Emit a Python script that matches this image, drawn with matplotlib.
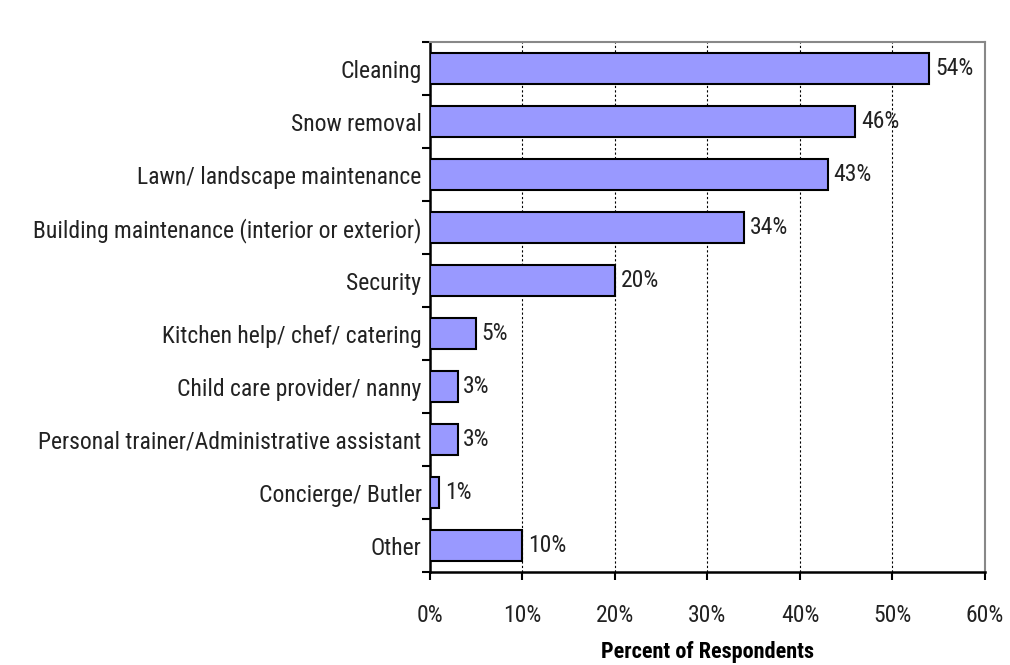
import matplotlib.pyplot as plt
from matplotlib.ticker import FixedLocator, FuncFormatter

# Survey results
categories = [
    "Cleaning",
    "Snow removal",
    "Lawn/ landscape maintenance",
    "Building maintenance (interior or exterior)",
    "Security",
    "Kitchen help/ chef/ catering",
    "Child care provider/ nanny",
    "Personal trainer/Administrative assistant",
    "Concierge/ Butler",
    "Other",
]
percents = [54, 46, 43, 34, 20, 5, 3, 3, 1, 10]
x_ticks = [0, 10, 20, 30, 40, 50, 60]

plt.rcParams["font.family"] = ["Roboto Condensed", "DejaVu Sans"]
plt.rcParams["font.size"] = 17

fig = plt.figure(figsize=(10.1, 6.65), dpi=100)
ax = fig.add_axes([0.4257, 0.1398, 0.5495, 0.797])

n = len(categories)
ypos = list(range(n))
ax.barh(ypos, percents, height=0.57, color="#9999FF", edgecolor="black", linewidth=1.5, zorder=3)

for y, v in zip(ypos, percents):
    ax.text(v + 0.6, y, f"{v}%", va="center", ha="left", color="#222222")

ax.set_ylim(n - 0.5, -0.5)
ax.set_xlim(0, 60)

# category labels in the middle, tick marks between categories
ax.set_yticks(ypos)
ax.set_yticklabels(categories, color="#222222")
ax.tick_params(axis="y", which="major", length=0, pad=6)
ax.yaxis.set_minor_locator(FixedLocator([i - 0.5 for i in range(n + 1)]))
ax.tick_params(axis="y", which="minor", length=6, width=1.5, direction="out")

ax.set_xticks(x_ticks)
ax.xaxis.set_major_formatter(FuncFormatter(lambda v, p: f"{int(v)}%"))
ax.tick_params(axis="x", length=6, width=1.5, direction="out", pad=17, labelcolor="#222222")

ax.grid(axis="x", color="black", linestyle=(0, (2, 2)), linewidth=0.8, zorder=0)

for side in ("left", "bottom"):
    ax.spines[side].set_linewidth(1.8)
for side in ("top", "right"):
    ax.spines[side].set_color("#888888")
    ax.spines[side].set_linewidth(1.5)

# axis title sits near the bottom edge
fig.text(0.7005, 1 - 652 / 665, "Percent of Respondents", ha="center", va="center",
         fontweight="bold", fontsize=16)

fig.savefig("out.png", dpi=100)
